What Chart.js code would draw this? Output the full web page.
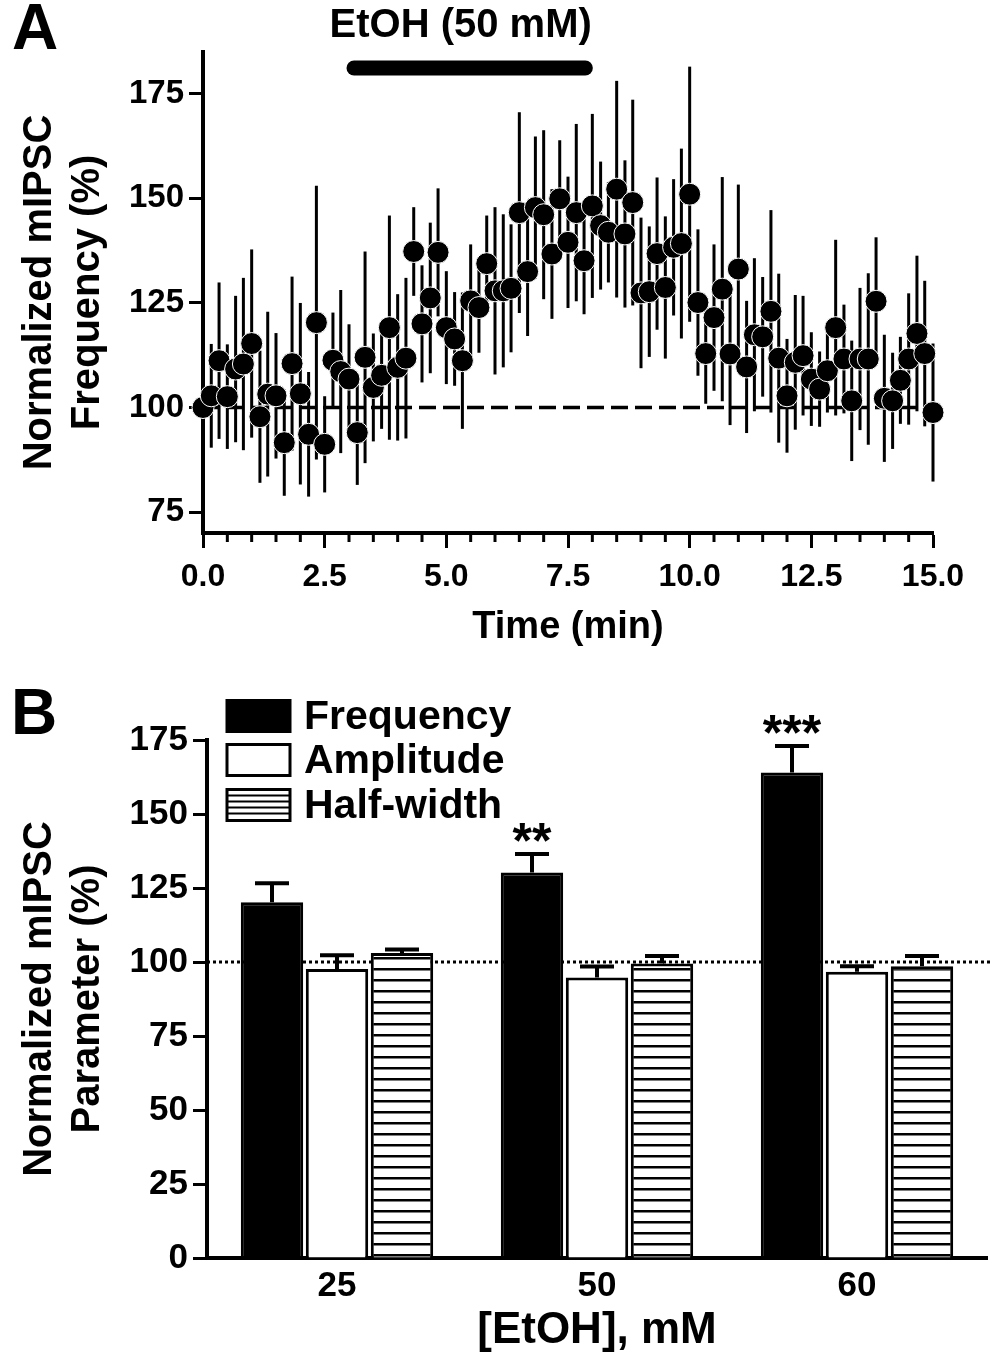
<!DOCTYPE html>
<html>
<head>
<meta charset="utf-8">
<script src="https://cdn.jsdelivr.net/npm/chart.js@4.4.1/dist/chart.umd.min.js"></script>
<style>
  body { margin: 0; background: #fff; width: 991px; height: 1353px; position: relative; overflow: hidden;
         font-family: "Liberation Sans", Arial, sans-serif; }
  canvas { position: absolute; left: 0; }
  .tag { position: absolute; z-index: 2; font-weight: bold; font-size: 64px; line-height: 1; color: #000; }
</style>
</head>
<body>
<canvas id="chartA" style="top:0" width="991" height="660"></canvas>
<canvas id="chartB" style="top:660px" width="991" height="693"></canvas>
<div class="tag" style="left:12px;top:-5px">A</div>
<div class="tag" style="left:11px;top:680px">B</div>
<script>
// ---- panel A: mIPSC frequency time course (10 s bins) ----
const timeMin = [0.00,0.17,0.33,0.50,0.67,0.83,1.00,1.17,1.33,1.50,1.67,1.83,2.00,2.17,2.33,2.50,
  2.67,2.83,3.00,3.17,3.33,3.50,3.67,3.83,4.00,4.17,4.33,4.50,4.67,4.83,5.00,5.17,5.33,5.50,5.67,5.83,
  6.00,6.17,6.33,6.50,6.67,6.83,7.00,7.17,7.33,7.50,7.67,7.83,8.00,8.17,8.33,8.50,8.67,8.83,9.00,9.17,
  9.33,9.50,9.67,9.83,10.00,10.17,10.33,10.50,10.67,10.83,11.00,11.17,11.33,11.50,11.67,11.83,12.00,
  12.17,12.33,12.50,12.67,12.83,13.00,13.17,13.33,13.50,13.67,13.83,14.00,14.17,14.33,14.50,14.67,14.83,15.00];
const freqMean = [100,102.8,111.2,102.6,109.2,110.4,115.3,97.8,103.2,102.8,91.6,110.5,103.3,93.6,120.3,91.2,
  111.3,108.6,106.8,94,112,104.8,107.7,119.1,109.6,111.8,137.3,120,126.2,137.1,119.1,116.4,111.2,125.5,
  123.9,134.4,127.9,127.9,128.5,146.6,132.5,147.8,146.1,136.7,149.9,139.5,146.6,135.1,148.2,143.5,141.9,
  152.2,141.5,149,127.4,127.7,136.8,128.7,138.3,139.2,151,125.1,112.9,121.5,128.3,112.8,133.1,109.7,117.4,
  116.9,123,111.8,102.8,110.8,112.4,106.8,104.4,108.8,119.1,111.6,101.6,111.6,111.6,125.4,102.2,101.6,
  106.5,111.6,117.7,112.9,98.8];
const freqSem = [3,12.4,18.7,12.5,17.5,20.6,22.5,15.8,19.7,15,12.7,20.8,21.7,14.9,32.7,11.5,
  11.4,19.5,13.1,12.5,25.3,12.9,12.8,26.8,17.5,19.2,10.6,14,18,15.3,13.5,11.2,16.3,13.5,
  10.8,11.5,20,18.3,15.3,24,15.4,17,20.2,15.5,14,15.7,21.2,12.8,22,15.3,12,
  25.9,17.6,24.6,18,15.6,18.2,17,16.3,22.7,30.5,17.5,12,17.5,26.8,17,20.2,15.8,18.3,
  14.3,24.2,20.2,13.6,16.1,14.3,11.2,9,10,21,13,14.4,17,20.5,15.3,15.2,11.5,
  10.4,15.7,18.6,17.4,16.5];
const yTicksA = [75, 100, 125, 150, 175];
const xTicksA = [0, 2.5, 5, 7.5, 10, 12.5, 15];
const baselinePct = 100;
const etohStart = 3, etohEnd = 8;

// ---- panel B: summary of mIPSC parameters ----
const etohConc = ['25', '50', '60'];
const freqPct = [120.2, 130.2, 164];
const freqErr = [6.4, 6.3, 9];
const ampPct = [97.6, 94.8, 96.7];
const ampErr = [4.7, 3.7, 1.9];
const hwPct = [103, 99.5, 98.6];
const hwErr = [1.2, 2.5, 3.4];
const signif = ['', '**', '***'];

const FONT = '"Liberation Sans", Arial, sans-serif';
Chart.defaults.font.family = FONT;
Chart.defaults.font.weight = 'bold';
Chart.defaults.color = '#000';

const errorBarsA = {
  id: 'errorBarsA',
  beforeDatasetsDraw(chart) {
    const { ctx, scales: { x, y } } = chart;
    ctx.save();
    ctx.strokeStyle = '#000';
    ctx.lineWidth = 3;
    timeMin.forEach((t, i) => {
      const px = x.getPixelForValue(t);
      ctx.beginPath();
      ctx.moveTo(px, y.getPixelForValue(freqMean[i] - freqSem[i]));
      ctx.lineTo(px, y.getPixelForValue(freqMean[i] + freqSem[i]));
      ctx.stroke();
    });
    ctx.restore();
  }
};

const decorA = {
  id: 'decorA',
  afterDraw(chart) {
    const { ctx, scales: { x }, chartArea } = chart;
    ctx.save();
    // minor ticks every 0.5 min
    ctx.strokeStyle = '#000';
    ctx.lineWidth = 3;
    for (let v = 0.5; v < 15; v += 0.5) {
      if (v % 2.5 === 0) continue;
      const px = x.getPixelForValue(v);
      ctx.beginPath();
      ctx.moveTo(px, chartArea.bottom);
      ctx.lineTo(px, chartArea.bottom + 9);
      ctx.stroke();
    }
    // ethanol application bar
    const x1 = x.getPixelForValue(etohStart), x2 = x.getPixelForValue(etohEnd);
    ctx.lineWidth = 15;
    ctx.lineCap = 'round';
    ctx.beginPath();
    ctx.moveTo(x1 + 5, 68);
    ctx.lineTo(x2 - 7, 68);
    ctx.stroke();
    ctx.fillStyle = '#000';
    ctx.font = 'bold 40px ' + FONT;
    ctx.textAlign = 'center';
    ctx.textBaseline = 'alphabetic';
    ctx.fillText('EtOH (50 mM)', (x1 + x2) / 2 - 10, 37);
    ctx.restore();
  }
};

new Chart(document.getElementById('chartA'), {
  type: 'scatter',
  data: {
    datasets: [
      {
        data: timeMin.map((t, i) => ({ x: t, y: freqMean[i] })),
        pointRadius: 11,
        pointBackgroundColor: '#000',
        pointBorderColor: '#fff',
        pointBorderWidth: 1,
        showLine: false,
        clip: false
      },
      {
        data: [{ x: timeMin[0], y: baselinePct }, { x: timeMin[timeMin.length - 1], y: baselinePct }],
        showLine: true,
        borderColor: '#000',
        borderWidth: 3.5,
        borderDash: [17, 7],
        pointRadius: 0
      }
    ]
  },
  options: {
    responsive: false,
    animation: false,
    layout: { padding: { top: 52, right: 58, left: 0, bottom: 0 } },
    plugins: { legend: { display: false }, tooltip: { enabled: false } },
    scales: {
      x: {
        type: 'linear', min: 0, max: 15,
        afterBuildTicks: s => { s.ticks = xTicksA.map(v => ({ value: v })); },
        afterFit: s => { s.height = 127; },
        ticks: { callback: v => v.toFixed(1), font: { size: 32 }, padding: 10,
                 maxRotation: 0, autoSkip: false },
        grid: { drawOnChartArea: false, tickLength: 15, tickWidth: 3, tickColor: '#000' },
        border: { width: 4, color: '#000' },
        title: { display: true, text: 'Time (min)', font: { size: 38 }, padding: { top: 0, bottom: 10 } }
      },
      y: {
        min: 70, max: 185,
        afterBuildTicks: s => { s.ticks = yTicksA.map(v => ({ value: v })); },
        afterFit: s => { s.width = 203; },
        ticks: { font: { size: 33 }, padding: 5, autoSkip: false },
        grid: { drawOnChartArea: false, tickLength: 14, tickWidth: 3, tickColor: '#000' },
        border: { width: 4, color: '#000' },
        title: { display: true, text: ['Normalized mIPSC', 'Frequency (%)'],
                 font: { size: 40, lineHeight: 1.2 }, padding: { top: 16, bottom: 0 } }
      }
    }
  },
  plugins: [errorBarsA, decorA]
});

// ---- panel B ----
const ctxB = document.getElementById('chartB').getContext('2d');
function hatch(period, lw) {
  const c = document.createElement('canvas');
  c.width = 8; c.height = period;
  const g = c.getContext('2d');
  g.fillStyle = '#fff'; g.fillRect(0, 0, 8, period);
  g.fillStyle = '#000'; g.fillRect(0, 0, 8, lw);
  return ctxB.createPattern(c, 'repeat');
}
const hatchFill = hatch(11, 2.5);

const decorB = {
  id: 'decorB',
  beforeDatasetsDraw(chart) {
    const { ctx, scales: { y }, chartArea } = chart;
    const py = y.getPixelForValue(baselinePct);
    ctx.save();
    ctx.strokeStyle = '#000';
    ctx.lineWidth = 3;
    ctx.setLineDash([3, 3]);
    ctx.beginPath();
    ctx.moveTo(chartArea.left, py);
    ctx.lineTo(chart.width, py);
    ctx.stroke();
    ctx.restore();
  },
  afterDatasetsDraw(chart) {
    const { ctx, scales: { y } } = chart;
    const errs = [freqErr, ampErr, hwErr];
    ctx.save();
    ctx.strokeStyle = '#000';
    ctx.fillStyle = '#000';
    ctx.lineWidth = 4;
    chart.data.datasets.forEach((ds, di) => {
      chart.getDatasetMeta(di).data.forEach((bar, i) => {
        const top = y.getPixelForValue(ds.data[i] + errs[di][i]);
        ctx.beginPath();
        ctx.moveTo(bar.x, bar.y);
        ctx.lineTo(bar.x, top);
        ctx.moveTo(bar.x - 17, top);
        ctx.lineTo(bar.x + 17, top);
        ctx.stroke();
        if (di === 0 && signif[i]) {
          ctx.font = 'bold 50px ' + FONT;
          ctx.textAlign = 'center';
          ctx.textBaseline = 'alphabetic';
          ctx.fillText(signif[i], bar.x, top + 4);
        }
      });
    });
    // legend
    const rows = [56, 100, 145];
    chart.data.datasets.forEach((ds, di) => {
      const cy = rows[di], bx = 227, bw = 63, bh = 31;
      ctx.lineWidth = 3;
      ctx.fillStyle = di === 0 ? '#000' : '#fff';
      ctx.fillRect(bx, cy - bh / 2, bw, bh);
      if (di === 2) {
        ctx.fillStyle = '#000';
        for (let k = cy - bh / 2 + 5; k < cy + bh / 2 - 2; k += 6) ctx.fillRect(bx, k, bw, 2);
      }
      ctx.strokeRect(bx, cy - bh / 2, bw, bh);
      ctx.fillStyle = '#000';
      ctx.font = 'bold 41px ' + FONT;
      ctx.textAlign = 'left';
      ctx.textBaseline = 'middle';
      ctx.fillText(ds.label, 304, cy + 2);
    });
    ctx.restore();
  }
};

new Chart(ctxB, {
  type: 'bar',
  data: {
    labels: etohConc,
    datasets: [
      { label: 'Frequency', data: freqPct, backgroundColor: '#000', borderColor: '#000', borderWidth: 3 },
      { label: 'Amplitude', data: ampPct, backgroundColor: '#fff', borderColor: '#000', borderWidth: 3 },
      { label: 'Half-width', data: hwPct, backgroundColor: hatchFill, borderColor: '#000', borderWidth: 3 }
    ]
  },
  options: {
    responsive: false,
    animation: false,
    datasets: { bar: { categoryPercentage: 0.75, barPercentage: 0.96 } },
    layout: { padding: { top: 80, right: 4, left: 0, bottom: 0 } },
    plugins: { legend: { display: false }, tooltip: { enabled: false } },
    scales: {
      x: {
        afterFit: s => { s.height = 95; },
        grid: { display: false, drawTicks: false },
        border: { width: 4, color: '#000' },
        ticks: { font: { size: 35 }, padding: 7 },
        title: { display: true, text: '[EtOH], mM', font: { size: 44, lineHeight: 1 }, padding: { top: 0, bottom: 0 } }
      },
      y: {
        min: 0, max: 175,
        afterFit: s => { s.width = 207; },
        ticks: { stepSize: 25, font: { size: 35 }, padding: 5 },
        grid: { drawOnChartArea: false, tickLength: 14, tickWidth: 3, tickColor: '#000' },
        border: { width: 4, color: '#000' },
        title: { display: true, text: ['Normalized mIPSC', 'Parameter (%)'],
                 font: { size: 40, lineHeight: 1.2 }, padding: { top: 16, bottom: 0 } }
      }
    }
  },
  plugins: [decorB]
});
</script>
</body>
</html>
